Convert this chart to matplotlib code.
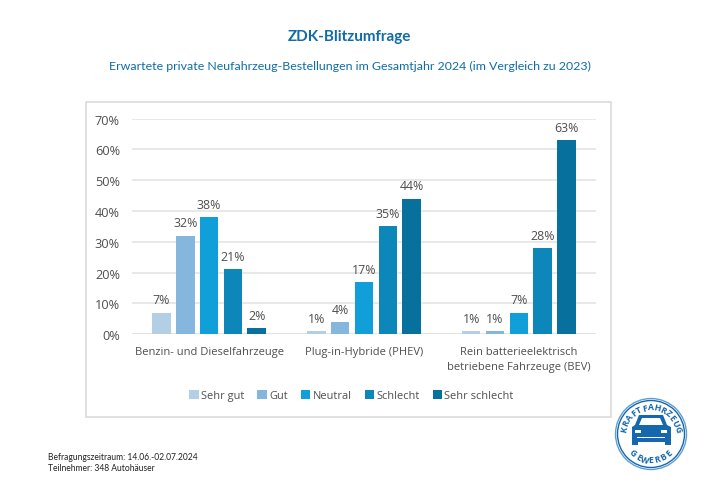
# -*- coding: utf-8 -*-
import matplotlib
matplotlib.use('Agg')
import matplotlib.pyplot as plt
from matplotlib.patches import Rectangle, Circle, Polygon
import numpy as np

# ── Daten ─────────────────────────────────────────────────────────────────────
categories = ['Benzin- und Dieselfahrzeuge', 'Plug-in-Hybride (PHEV)',
              'Rein batterieelektrisch\nbetriebene Fahrzeuge (BEV)']
series_names = ['Sehr gut', 'Gut', 'Neutral', 'Schlecht', 'Sehr schlecht']
sehr_gut = [7, 1, 1]
gut = [32, 4, 1]
neutral = [38, 17, 7]
schlecht = [21, 35, 28]
sehr_schlecht = [2, 44, 63]
y_ticks = [0, 10, 20, 30, 40, 50, 60, 70]

# ── Design ────────────────────────────────────────────────────────────────────
COLORS = ['#B3CFE6', '#85B6DD', '#109FD8', '#0D87BA', '#07709C']
BLUE = '#0F6CA8'
LOGO = '#1668AE'
GREY = '#4F4F4F'
GRID = '#E2E2E2'
W, H = 710, 502
HEAD_FONT = ['Lato', 'DejaVu Sans']

plt.rcParams['font.family'] = ['Open Sans', 'DejaVu Sans']

fig = plt.figure(figsize=(W / 100, H / 100), dpi=100, facecolor='white')

# Hintergrund-Achse in Pixelkoordinaten
bg = fig.add_axes([0, 0, 1, 1])
bg.set_xlim(0, W)
bg.set_ylim(H, 0)
bg.axis('off')

bg.text(349.5, 37, 'ZDK-Blitzumfrage', ha='center', va='center', fontsize=11,
        fontweight='bold', color=BLUE, family=HEAD_FONT)
bg.text(349.5, 66, 'Erwartete private Neufahrzeug-Bestellungen im Gesamtjahr 2024 (im Vergleich zu 2023)',
        ha='center', va='center', fontsize=8.95, color=BLUE, family=HEAD_FONT)

# Rahmen ums Diagramm
bg.add_patch(Rectangle((86, 103), 525, 315, facecolor='white', edgecolor='#DADADA', linewidth=1.2))

# Fusszeile
bg.text(48, 458, 'Befragungszeitraum: 14.06.-02.07.2024', ha='left', va='center',
        fontsize=6.15, color='#222222', family=HEAD_FONT)
bg.text(48, 469, 'Teilnehmer: 348 Autohäuser', ha='left', va='center',
        fontsize=6.15, color='#222222', family=HEAD_FONT)

# Diagramm
left, right, top, bottom = 131.7, 596.2, 119.5, 335.2
ax = fig.add_axes([left / W, 1 - bottom / H, (right - left) / W, (bottom - top) / H])
ax.set_facecolor('none')
ax.set_xlim(-0.5, 2.5)
ax.set_ylim(0, 70)

values = [sehr_gut, gut, neutral, schlecht, sehr_schlecht]
bar_w = 18.5 / 154.8
step = 23.8 / 154.8
x = np.arange(len(categories))
for i, (name, vals) in enumerate(zip(series_names, values)):
    pos = x + (i - 2) * step
    ax.bar(pos, vals, width=bar_w, color=COLORS[i], zorder=3, label=name)
    for p, v in zip(pos, vals):
        ax.annotate(f'{v}%', (p, v), xytext=(0, 4.5), textcoords='offset points',
                    ha='center', va='bottom', fontsize=8.9, color=GREY)

ax.set_yticks(y_ticks)
ax.set_yticklabels([f'{v}%' for v in y_ticks], fontsize=9.2, color=GREY)
ax.set_xticks(x)
ax.set_xticklabels(categories, fontsize=8.0, color=GREY, linespacing=1.45)
ax.tick_params(axis='both', length=0)
ax.tick_params(axis='y', pad=8.5)
ax.tick_params(axis='x', pad=8.5)
ax.grid(axis='y', color=GRID, linewidth=1.1, zorder=0)
for spine in ax.spines.values():
    spine.set_visible(False)
ax.axhline(0, color=GRID, linewidth=1.1, zorder=1)

fig.legend(*ax.get_legend_handles_labels(), loc='center', ncol=5, frameon=False,
           bbox_to_anchor=(351.5 / W, 1 - 396.5 / H), fontsize=7.9, labelcolor=GREY,
           handlelength=0.85, handleheight=0.85, handletextpad=0.2, columnspacing=1.2)

# Logo
cx, cy = 651, 435
bg.add_patch(Circle((cx, cy), 35.5, facecolor='white', edgecolor='#5FA0D0', linewidth=1.0))
bg.add_patch(Circle((cx, cy), 33.5, facecolor='none', edgecolor=LOGO, linewidth=1.0))

def ring_text(text, center_deg, span_deg, radius, upper=True):
    # Buchstaben einzeln entlang des Kreises setzen
    angles = np.linspace(center_deg - span_deg / 2, center_deg + span_deg / 2, len(text))
    for ch, a in zip(text, angles):
        rad = np.radians(a)
        px = cx + radius * np.sin(rad)
        py = cy - radius * np.cos(rad)
        rot = -a if upper else 180 - a
        bg.text(px, py, ch, ha='center', va='center', rotation=rot, rotation_mode='anchor',
                fontsize=6.2, fontweight='bold', color=LOGO)

ring_text('KRAFTFAHRZEUG', 0, 155, 27)
ring_text('GEWERBE', 180, -88, 26, upper=False)

# Auto
bg.add_patch(Polygon([(635, 426), (639, 416), (663, 416), (667, 426), (671, 428),
                      (671, 446), (665, 446), (665, 443), (638, 443), (638, 446),
                      (632, 446), (632, 428)], closed=True, facecolor=LOGO, edgecolor='none'))
bg.add_patch(Polygon([(639, 426), (642, 419), (660, 419), (663, 426)], closed=True,
                     facecolor='white', edgecolor='none'))
bg.add_patch(Rectangle((635, 431), 6, 2.5, facecolor='white', edgecolor='none'))
bg.add_patch(Rectangle((661, 431), 6, 2.5, facecolor='white', edgecolor='none'))
bg.add_patch(Rectangle((637, 438), 28, 0.9, facecolor='white', edgecolor='none'))

fig.savefig('out.png', dpi=100, facecolor='white')
plt.close(fig)
